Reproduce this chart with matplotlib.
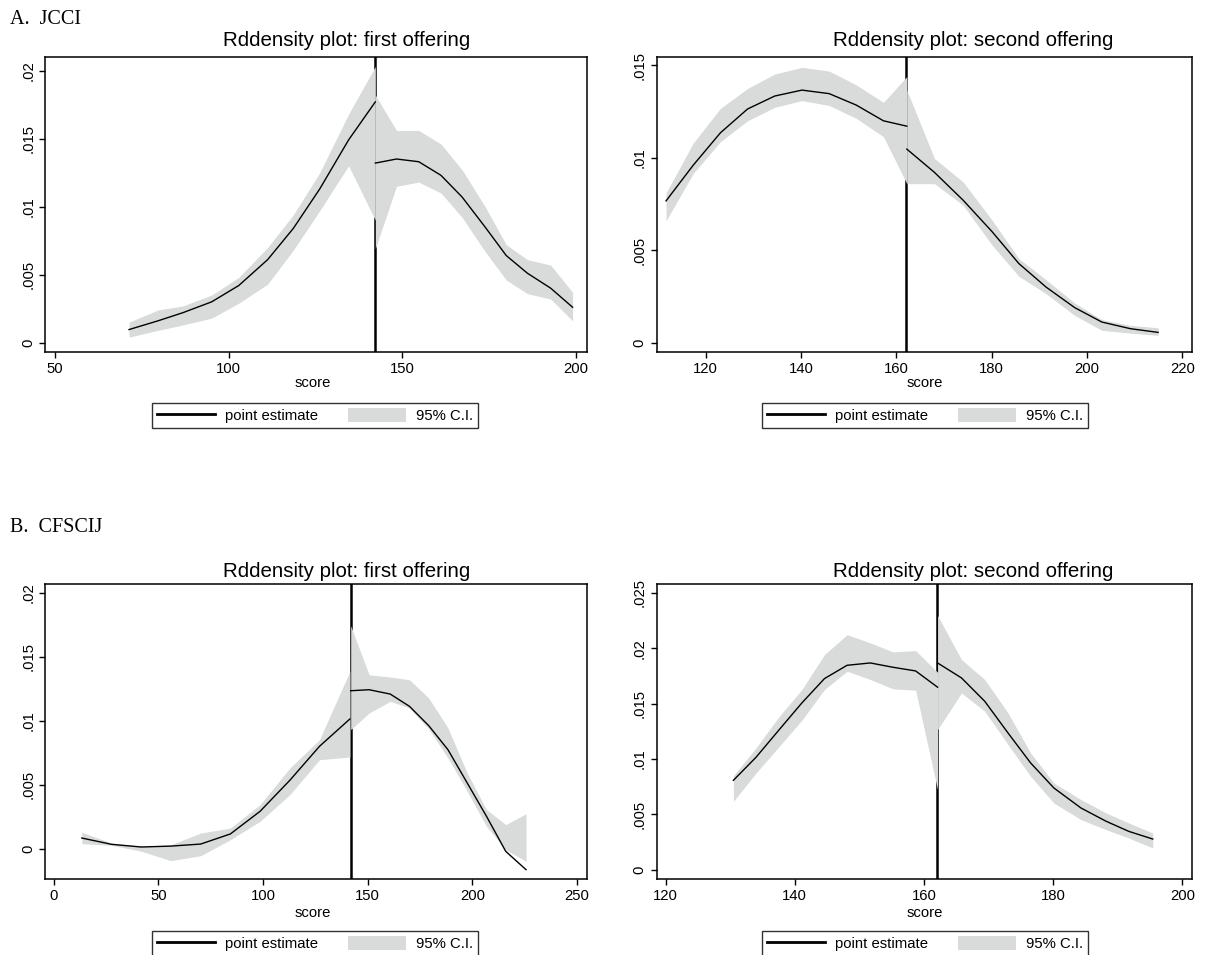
import matplotlib
matplotlib.use("Agg")
import matplotlib.pyplot as plt
from matplotlib.lines import Line2D
from matplotlib.patches import Patch

plt.rcParams['font.family'] = ['Liberation Sans', 'DejaVu Sans']

# ---------------- data ----------------
# Panel A1: JCCI first offering
a1_cut = 142
a1_lx = [71.3, 79.6, 86.8, 95.1, 102.9, 111.2, 118.6, 126.2, 134.5, 142.2]
a1_ly = [0.00096, 0.0016, 0.0022, 0.0030, 0.0042, 0.0061, 0.0084, 0.0113, 0.0149, 0.0177]
a1_lu = [0.0015, 0.0024, 0.0027, 0.0035, 0.0048, 0.0070, 0.0094, 0.0125, 0.0168, 0.0203]
a1_ll = [0.0004, 0.0009, 0.0013, 0.0018, 0.0029, 0.0043, 0.0068, 0.0097, 0.0130, 0.0090]
a1_rx = [142.2, 148.3, 154.7, 161.1, 167.2, 173.8, 179.9, 186.0, 192.7, 199.0]
a1_ry = [0.0132, 0.0135, 0.0133, 0.0123, 0.0107, 0.0085, 0.0064, 0.0051, 0.0040, 0.0026]
a1_ru = [0.0182, 0.0156, 0.0156, 0.0146, 0.0127, 0.0100, 0.0072, 0.0061, 0.0057, 0.0037]
a1_rl = [0.0069, 0.0115, 0.0118, 0.0110, 0.0092, 0.0067, 0.0046, 0.0036, 0.0032, 0.0016]

# Panel A2: JCCI second offering
a2_cut = 162
a2_lx = [111.7, 117.4, 123.1, 128.8, 134.5, 140.2, 145.9, 151.6, 157.3, 162.2]
a2_ly = [0.00767, 0.0096, 0.01135, 0.01264, 0.01334, 0.01366, 0.01347, 0.01285, 0.0120, 0.01171]
a2_lu = [0.0081, 0.0108, 0.01267, 0.01375, 0.01453, 0.01489, 0.01469, 0.01394, 0.0130, 0.01439]
a2_ll = [0.00659, 0.00915, 0.01087, 0.0120, 0.01273, 0.01309, 0.01283, 0.01213, 0.01114, 0.0086]
a2_rx = [162.2, 168.0, 174.0, 180.1, 185.7, 191.4, 197.4, 203.1, 209.1, 214.9]
a2_ry = [0.01047, 0.00921, 0.00771, 0.0060, 0.00428, 0.00301, 0.0019, 0.00112, 0.00076, 0.00056]
a2_ru = [0.01366, 0.00996, 0.0087, 0.00662, 0.00455, 0.00341, 0.00215, 0.00125, 0.00094, 0.00081]
a2_rl = [0.0086, 0.0086, 0.00744, 0.00527, 0.00359, 0.00265, 0.00148, 0.00067, 0.00052, 0.0004]

# Panel B1: CFSCIJ first offering
b1_cut = 142
b1_lx = [13.4, 27.6, 41.8, 56.0, 70.2, 84.4, 98.6, 112.8, 127.0, 141.5]
b1_ly = [0.00083, 0.00034, 0.00013, 0.0002, 0.00036, 0.00115, 0.00292, 0.00534, 0.0080, 0.01013]
b1_lu = [0.00128, 0.00044, 0.00018, 0.00031, 0.00122, 0.00161, 0.00344, 0.0063, 0.00852, 0.01385]
b1_ll = [0.00039, 0.00026, -0.0002, -0.00094, -0.00055, 0.0007, 0.00214, 0.00422, 0.00695, 0.00716]
b1_rx = [141.9, 150.7, 160.8, 170.0, 179.2, 188.4, 197.6, 206.8, 216.0, 225.7]
b1_ry = [0.01234, 0.01242, 0.01208, 0.01112, 0.00961, 0.00773, 0.00513, 0.00253, -0.00021, -0.00164]
b1_ru = [0.01742, 0.01359, 0.01341, 0.0132, 0.01177, 0.00943, 0.00591, 0.00305, 0.00188, 0.00273]
b1_rl = [0.0093, 0.0106, 0.01151, 0.01099, 0.00935, 0.00708, 0.00448, 0.00174, -0.00008, -0.00099]

# Panel B2: CFSCIJ second offering
b2_cut = 162
b2_lx = [130.5, 134.0, 137.6, 141.1, 144.6, 148.1, 151.7, 155.2, 158.7, 162.1]
b2_ly = [0.00807, 0.01015, 0.01265, 0.01506, 0.01726, 0.01846, 0.01867, 0.01828, 0.01795, 0.01648]
b2_lu = [0.00849, 0.0110, 0.01386, 0.01627, 0.01943, 0.02123, 0.02048, 0.01967, 0.01979, 0.01783]
b2_ll = [0.00617, 0.00873, 0.01114, 0.0135, 0.01627, 0.01792, 0.01717, 0.01633, 0.01621, 0.00723]
b2_rx = [162.1, 165.8, 169.4, 173.0, 176.5, 180.1, 184.3, 188.2, 191.7, 195.4]
b2_ry = [0.01867, 0.01732, 0.01521, 0.01235, 0.00964, 0.00738, 0.00557, 0.00437, 0.00346, 0.00277]
b2_ru = [0.02295, 0.01898, 0.01717, 0.01416, 0.01054, 0.00783, 0.00633, 0.00512, 0.00422, 0.00331]
b2_rl = [0.01265, 0.01596, 0.01431, 0.0113, 0.00843, 0.00602, 0.00452, 0.00361, 0.00286, 0.00196]

# ticks
a1_xt = [50, 100, 150, 200]
a1_yt = [0, 0.005, 0.01, 0.015, 0.02]
a1_ytl = ['0', '.005', '.01', '.015', '.02']
a2_xt = [120, 140, 160, 180, 200, 220]
a2_yt = [0, 0.005, 0.01, 0.015]
a2_ytl = ['0', '.005', '.01', '.015']
b1_xt = [0, 50, 100, 150, 200, 250]
b1_yt = [0, 0.005, 0.01, 0.015, 0.02]
b1_ytl = ['0', '.005', '.01', '.015', '.02']
b2_xt = [120, 140, 160, 180, 200]
b2_yt = [0, 0.005, 0.01, 0.015, 0.02, 0.025]
b2_ytl = ['0', '.005', '.01', '.015', '.02', '.025']

titles = ['Rddensity plot: first offering', 'Rddensity plot: second offering',
          'Rddensity plot: first offering', 'Rddensity plot: second offering']
panel_labels = ['A.  JCCI', 'B.  CFSCIJ']
xlabel = 'score'
legend_labels = ['point estimate', '95% C.I.']

BAND = '#d9dbdb'
W, H = 1207, 955
fig = plt.figure(figsize=(W / 100, H / 100), dpi=100)

def px_ax(l, r, t, b):
    return fig.add_axes([l / W, 1 - b / H, (r - l) / W, (b - t) / H])

panels = [
    dict(box=(45, 586.5, 57, 352), xlim=(47.1, 203), ylim=(-0.00069, 0.0210), cut=a1_cut,
         L=(a1_lx, a1_ly, a1_lu, a1_ll), R=(a1_rx, a1_ry, a1_ru, a1_rl),
         xt=a1_xt, yt=a1_yt, ytl=a1_ytl, title=titles[0], tx=347, ty=40, sx=313, sy=383, lg=(315, 415.5)),
    dict(box=(656.5, 1191.5, 57, 352), xlim=(109.7, 221.9), ylim=(-0.0005, 0.01545), cut=a2_cut,
         L=(a2_lx, a2_ly, a2_lu, a2_ll), R=(a2_rx, a2_ry, a2_ru, a2_rl),
         xt=a2_xt, yt=a2_yt, ytl=a2_ytl, title=titles[1], tx=973, ty=40, sx=925, sy=383, lg=(925, 415.5)),
    dict(box=(45, 586.5, 584, 879), xlim=(-4.2, 254.6), ylim=(-0.00237, 0.02068), cut=b1_cut,
         L=(b1_lx, b1_ly, b1_lu, b1_ll), R=(b1_rx, b1_ry, b1_ru, b1_rl),
         xt=b1_xt, yt=b1_yt, ytl=b1_ytl, title=titles[2], tx=347, ty=571, sx=313, sy=913, lg=(315, 943.5)),
    dict(box=(656.5, 1191.5, 584, 879), xlim=(118.6, 201.4), ylim=(-0.00084, 0.0258), cut=b2_cut,
         L=(b2_lx, b2_ly, b2_lu, b2_ll), R=(b2_rx, b2_ry, b2_ru, b2_rl),
         xt=b2_xt, yt=b2_yt, ytl=b2_ytl, title=titles[3], tx=973, ty=571, sx=925, sy=913, lg=(925, 943.5)),
]

FS = 10.7
for p in panels:
    l, r, t, b = p['box']
    ax = px_ax(l, r, t, b)
    ax.axvline(p['cut'], color='black', lw=1.8, zorder=1)
    for side in ('L', 'R'):
        x, y, u, lo = p[side]
        ax.fill_between(x, lo, u, color=BAND, lw=0, zorder=2)
        ax.plot(x, y, color='black', lw=1.0, zorder=3)
    ax.set_xlim(*p['xlim'])
    ax.set_ylim(*p['ylim'])
    ax.set_xticks(p['xt'])
    ax.set_xticklabels([str(v) for v in p['xt']], fontsize=FS)
    ax.set_yticks(p['yt'])
    ax.set_yticklabels(p['ytl'], fontsize=FS, rotation=90, va='center')
    ax.tick_params(direction='out', length=4, width=1.0, color='black', pad=3)
    for s in ax.spines.values():
        s.set_linewidth(1.1)
        s.set_color('black')
    fig.text(p['tx'] / W, 1 - p['ty'] / H, p['title'], fontsize=14.8, ha='center', va='center')
    fig.text(p['sx'] / W, 1 - p['sy'] / H, xlabel, fontsize=FS, ha='center', va='center')
    handles = [Line2D([], [], color='black', lw=2.0), Patch(facecolor=BAND, edgecolor='none')]
    leg = fig.legend(handles, legend_labels, loc='center', ncol=2,
                     bbox_to_anchor=(p['lg'][0] / W, 1 - p['lg'][1] / H),
                     fontsize=FS, frameon=True, fancybox=False, edgecolor='black',
                     handlelength=3.9, handleheight=1.1, handletextpad=0.7, columnspacing=2.0,
                     borderpad=0.35, borderaxespad=0)
    leg.get_frame().set_linewidth(1.0)

fig.text(10 / W, 1 - 20 / H, panel_labels[0], fontsize=14.5, family='Liberation Serif', ha='left', va='center')
fig.text(10 / W, 1 - 528 / H, panel_labels[1], fontsize=14.5, family='Liberation Serif', ha='left', va='center')

fig.savefig('out.png', dpi=100)
